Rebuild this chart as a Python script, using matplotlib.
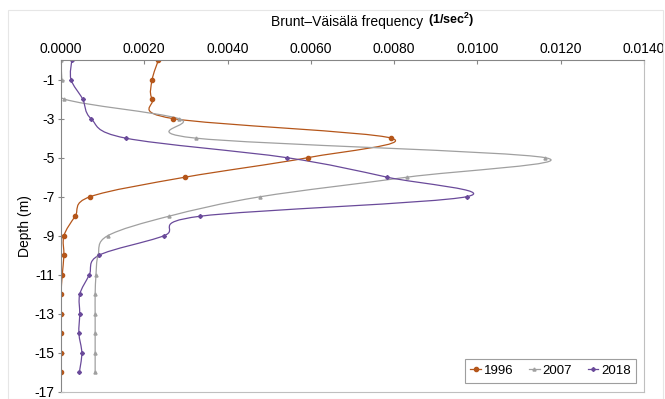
import numpy as np
import matplotlib.pyplot as plt
from matplotlib.path import Path
from matplotlib.patches import PathPatch
from matplotlib.lines import Line2D

plt.rcParams['font.family'] = ['Liberation Sans', 'DejaVu Sans']
plt.rcParams['mathtext.fontset'] = 'custom'
plt.rcParams['mathtext.rm'] = 'Liberation Sans'
plt.rcParams['mathtext.bf'] = 'Liberation Sans:bold'

# %%
depth = [0, -1, -2, -3, -4, -5, -6, -7, -8, -9, -10, -11, -12, -13, -14, -15, -16]
n1996 = [0.00234, 0.00219, 0.00219, 0.00269, 0.00793, 0.00593, 0.00298, 0.00070, 0.00034,
         0.00007, 0.00007, 0.00003, 0.0, 0.0, 0.0, 0.0, 0.0]
n2007 = [0.0, 0.00002, 0.00008, 0.00283, 0.00323, 0.01162, 0.00831, 0.00479, 0.00259,
         0.00112, 0.00089, 0.00084, 0.00082, 0.00082, 0.00082, 0.00082, 0.00082]
n2018 = [0.00026, 0.00024, 0.00052, 0.00072, 0.00155, 0.00542, 0.00783, 0.00974, 0.00334,
         0.00247, 0.00091, 0.00068, 0.00045, 0.00045, 0.00043, 0.00050, 0.00044]
years = ['1996', '2007', '2018']
xticks = [0.0, 0.002, 0.004, 0.006, 0.008, 0.010, 0.012, 0.014]
yticks = [-17, -15, -13, -11, -9, -7, -5, -3, -1]

colors = ['#B5561A', '#A0A0A0', '#6A4A9A']
markers = ['o', '^', 'D']
msizes = [3.0, 2.2, 2.0]


# %%
def smooth_path(xs, ys):
    # excel style smoothed line (catmull-rom -> bezier)
    pts = np.column_stack([xs, ys]).astype(float)
    verts = [pts[0]]
    codes = [Path.MOVETO]
    n = len(pts)
    for i in range(n - 1):
        p0 = pts[max(i - 1, 0)]
        p1 = pts[i]
        p2 = pts[i + 1]
        p3 = pts[min(i + 2, n - 1)]
        verts += [p1 + (p2 - p0) / 6, p2 - (p3 - p1) / 6, p2]
        codes += [Path.CURVE4] * 3
    return Path(verts, codes)


fig = plt.figure(figsize=(6.65, 3.99), dpi=100)
ax = fig.add_axes([61 / 665, 1 - 392 / 399, (644 - 61) / 665, (392 - 60) / 399])

handles = []
for vals, c, m, ms, lab in zip([n1996, n2007, n2018], colors, markers, msizes, years):
    ax.add_patch(PathPatch(smooth_path(vals, depth), fill=False, edgecolor=c, lw=0.9))
    ax.plot(vals, depth, ls='none', marker=m, ms=ms, color=c)
    handles.append(Line2D([], [], color=c, lw=0.9, marker=m, ms=ms, label=lab))

ax.set_xlim(0, 0.014)
ax.set_ylim(-17, 0)
ax.xaxis.tick_top()
ax.set_xticks(xticks)
ax.set_xticklabels(['%.4f' % v for v in xticks], fontsize=10)
ax.set_yticks(yticks)
ax.set_yticklabels([str(v) for v in yticks], fontsize=10)
ax.tick_params(axis='x', direction='in', length=3, color='#868686', pad=3)
ax.tick_params(axis='y', direction='inout', length=5, color='#868686', pad=2)
for s in ['top', 'left']:
    ax.spines[s].set_color('#868686')
for s in ['right', 'bottom']:
    ax.spines[s].set_color('#BFBFBF')
ax.set_ylabel('Depth (m)', fontsize=10, labelpad=2)

fig.text(423 / 665, 1 - 22 / 399, 'Brunt–Väisälä frequency', ha='right', va='center', fontsize=10)
fig.text(428 / 665, 1 - 20 / 399, r'(1/sec$^{\mathbf{2}}$)', ha='left', va='center',
         fontsize=9, fontweight='bold')

leg = ax.legend(handles=handles, loc='lower right', ncol=3, fontsize=9.5, frameon=True,
                fancybox=False, edgecolor='#868686', handlelength=0.8, handletextpad=0.2,
                columnspacing=1.2, borderpad=0.45, borderaxespad=0,
                bbox_to_anchor=(0.987, 0.027))
leg.get_frame().set_linewidth(0.8)

fig.patches.append(plt.Rectangle((0.012, 0.0), 0.985, 0.975, transform=fig.transFigure,
                                 fill=False, edgecolor='#E6E6E6', lw=0.8))

fig.savefig('out.png', dpi=100)
